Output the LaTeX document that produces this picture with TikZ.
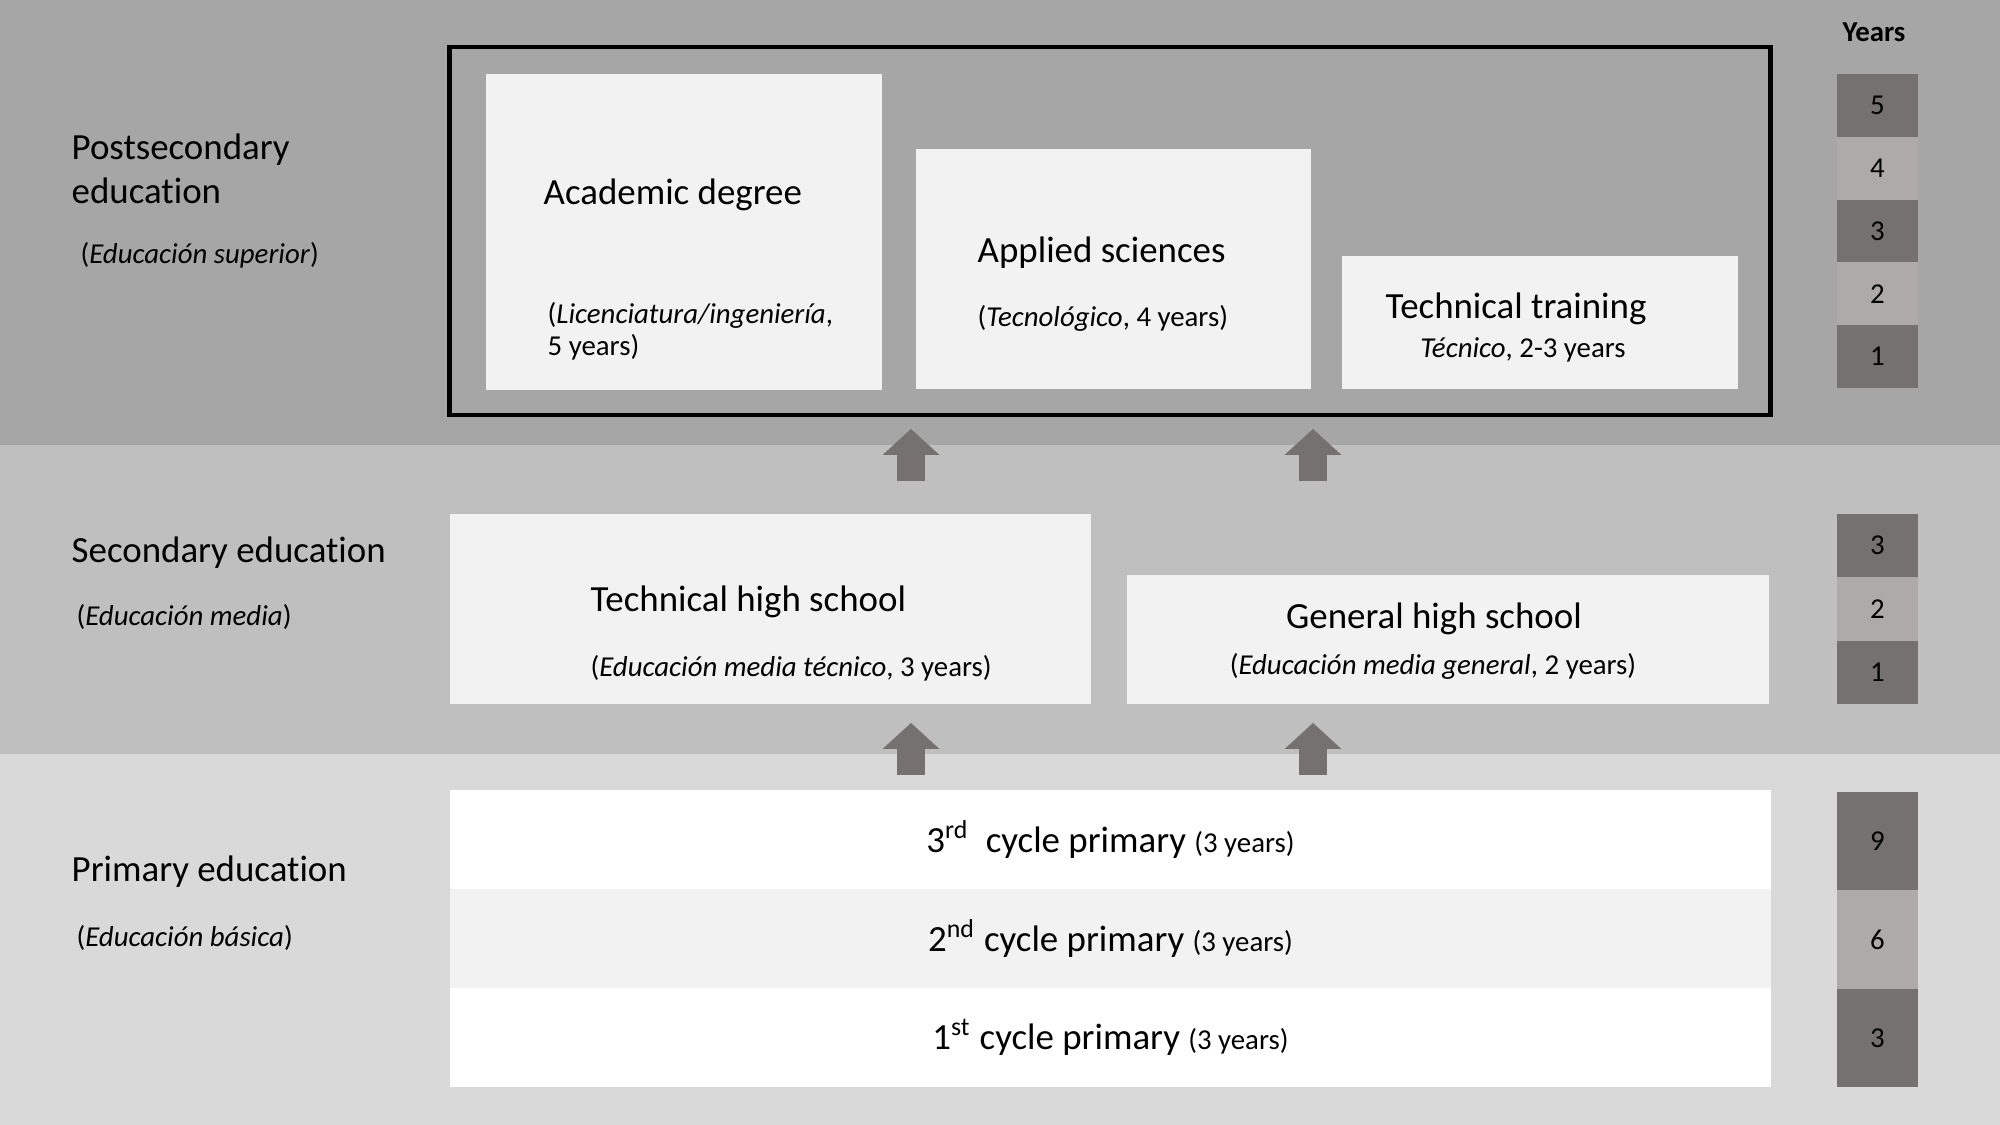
\documentclass[tikz,border=0pt]{standalone}
\usepackage{fontspec}
\setmainfont{Carlito}[Ligatures=NoCommon]
\usetikzlibrary{arrows.meta}

\definecolor{bandtop}{HTML}{A6A6A6}
\definecolor{bandmid}{HTML}{BFBFBF}
\definecolor{bandlow}{HTML}{D9D9D9}
\definecolor{boxfill}{HTML}{F2F2F2}
\definecolor{yeardark}{HTML}{767171}
\definecolor{yearlight}{HTML}{AEAAAA}

\begin{document}
\begin{tikzpicture}[x=0.1mm, y=-0.1mm,
    % Text and box styles
    headtext/.style={font=\fontsize{10.5}{12.4}\selectfont, inner sep=0pt},
    subtext/.style={font=\fontsize{8.2}{9.2}\selectfont, inner sep=0pt},
    progbox/.style={fill=boxfill, draw=none, inner sep=0pt},
    rowbox/.style={draw=none, inner sep=0pt, minimum width=132.1mm, minimum height=9.9mm, font=\fontsize{10.5}{12.4}\selectfont},
    yearbox/.style={draw=none, inner sep=0pt, minimum width=8.1mm, font=\fontsize{8.2}{9.6}\selectfont},
    uparrow/.style={yeardark, line width=2.8mm, -{Triangle[width=5.7mm, length=2.6mm, line width=0pt]}}
]

% 1. Backgrounds (level bands)
\fill[bandtop] (0,0) rectangle (2000,445);
\fill[bandmid] (0,445) rectangle (2000,754);
\fill[bandlow] (0,754) rectangle (2000,1125);
\useasboundingbox (0,0) rectangle (2000,1125);

% 2. Level labels
\node[headtext, anchor=west, align=left] (postlbl) at (71,169) {Postsecondary\\education};
\node[subtext, anchor=west] (postsub) at (80,255) {(\textit{Educación superior})};
\node[headtext, anchor=west] (seclbl) at (71,553) {Secondary education};
\node[subtext, anchor=west] (secsub) at (76,617) {(\textit{Educación media})};
\node[headtext, anchor=west] (primlbl) at (71,872) {Primary education};
\node[subtext, anchor=west] (primsub) at (76,938) {(\textit{Educación básica})};
\node[subtext, font=\bfseries\fontsize{8.2}{9.6}\selectfont] (yearslbl) at (1874,32) {Years};

% 3. Postsecondary frame and boxes
\node[draw=black, line width=1.2pt, minimum width=132.1mm, minimum height=36.8mm, inner sep=0pt] (postframe) at (1110,231) {};
\node[progbox, minimum width=39.6mm, minimum height=31.6mm] (acad) at (684,232) {};
\node[progbox, minimum width=39.5mm, minimum height=24mm] (appl) at (1113.5,269) {};
\node[progbox, minimum width=39.6mm, minimum height=13.3mm] (tecn) at (1540,322.5) {};

\node[headtext, anchor=west] (acadname) at (543,195) {Academic degree};
\node[subtext, anchor=west, align=left] (acadsub) at (547,331) {(\textit{Licenciatura/ingeniería},\\5 years)};
\node[headtext, anchor=west] (applname) at (977,253) {Applied sciences};
\node[subtext, anchor=west] (applsub) at (977,318) {(\textit{Tecnológico}, 4 years)};
\node[headtext] (tecnname) at (1516,309) {Technical training};
\node[subtext] (tecnsub) at (1523,350) {\textit{Técnico}, 2-3 years};

% 4. Secondary boxes
\node[progbox, minimum width=64.1mm, minimum height=19mm] (techhs) at (770.5,609) {};
\node[progbox, minimum width=64.2mm, minimum height=12.9mm] (genhs) at (1448,639.5) {};

\node[headtext, anchor=west] (techname) at (590,602) {Technical high school};
\node[subtext, anchor=west] (techsub) at (590,668) {(\textit{Educación media técnico}, 3 years)};
\node[headtext] (genname) at (1434,619) {General high school};
\node[subtext] (gensub) at (1433,666) {(\textit{Educación media general}, 2 years)};

% 5. Primary rows
\node[rowbox, fill=white] (cyc3) at (1110.5,839.5) {3\textsuperscript{rd}\ \ cycle primary {\fontsize{8.2}{9.6}\selectfont (3 years)}};
\node[rowbox, fill=boxfill] (cyc2) at (1110.5,938.5) {2\textsuperscript{nd} cycle primary {\fontsize{8.2}{9.6}\selectfont (3 years)}};
\node[rowbox, fill=white] (cyc1) at (1110.5,1037.5) {1\textsuperscript{st} cycle primary {\fontsize{8.2}{9.6}\selectfont (3 years)}};

% 6. Years column
\node[yearbox, fill=yeardark, minimum height=6.28mm] (py5) at (1877.5,105.4) {5};
\node[yearbox, fill=yearlight, minimum height=6.28mm] (py4) at (1877.5,168.2) {4};
\node[yearbox, fill=yeardark, minimum height=6.28mm] (py3) at (1877.5,231) {3};
\node[yearbox, fill=yearlight, minimum height=6.28mm] (py2) at (1877.5,293.8) {2};
\node[yearbox, fill=yeardark, minimum height=6.28mm] (py1) at (1877.5,356.6) {1};

\node[yearbox, fill=yeardark, minimum height=6.33mm] (sy3) at (1877.5,545.7) {3};
\node[yearbox, fill=yearlight, minimum height=6.33mm] (sy2) at (1877.5,609) {2};
\node[yearbox, fill=yeardark, minimum height=6.33mm] (sy1) at (1877.5,672.3) {1};

\node[yearbox, fill=yeardark, minimum height=9.83mm] (ry9) at (1877.5,841) {9};
\node[yearbox, fill=yearlight, minimum height=9.83mm] (ry6) at (1877.5,939.5) {6};
\node[yearbox, fill=yeardark, minimum height=9.83mm] (ry3) at (1877.5,1038) {3};

% 7. Block arrows between levels
\coordinate (up1s) at (911,481);  \coordinate (up1t) at (911,429);
\coordinate (up2s) at (1313,481); \coordinate (up2t) at (1313,429);
\coordinate (lo1s) at (911,775);  \coordinate (lo1t) at (911,723);
\coordinate (lo2s) at (1313,775); \coordinate (lo2t) at (1313,723);

\draw[uparrow] (up1s) -- (up1t);
\draw[uparrow] (up2s) -- (up2t);
\draw[uparrow] (lo1s) -- (lo1t);
\draw[uparrow] (lo2s) -- (lo2t);

\end{tikzpicture}
\end{document}
